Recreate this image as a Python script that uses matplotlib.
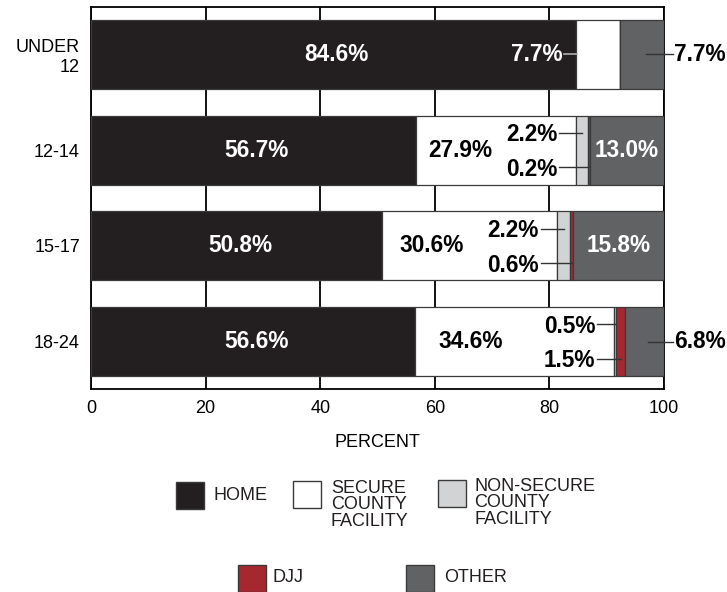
import matplotlib
matplotlib.use("Agg")
import matplotlib.pyplot as plt
from matplotlib.patches import Rectangle

plt.rcParams["font.family"] = ["Liberation Sans", "DejaVu Sans"]

# ============================================================
# Data
# ============================================================

categories = ["UNDER\n12", "12-14", "15-17", "18-24"]
series_names = ["HOME", "SECURE\nCOUNTY\nFACILITY", "NON-SECURE\nCOUNTY\nFACILITY", "DJJ", "OTHER"]

home = [84.6, 56.7, 50.8, 56.6]
secure = [7.7, 27.9, 30.6, 34.6]
nonsecure = [0.0, 2.2, 2.2, 0.5]
djj = [0.0, 0.2, 0.6, 1.5]
other = [7.7, 13.0, 15.8, 6.8]

xticks = [0, 20, 40, 60, 80, 100]

# ============================================================
# Style
# ============================================================

colors = ["#231f20", "#ffffff", "#d1d3d4", "#a4282e", "#616264"]
edge = "#3a3a3a"
W, H = 727, 592
BAR_H = 0.72
LABEL_FS = 16.3

fig = plt.figure(figsize=(W / 100, H / 100), dpi=100)
ax = fig.add_axes([91 / W, 1 - 389 / H, 573 / W, 382 / H])

series = [home, secure, nonsecure, djj, other]
ypos = list(range(len(categories)))
left = [0.0] * len(categories)
starts = []
for vals, col in zip(series, colors):
    ax.barh(ypos, vals, left=left, height=BAR_H, color=col,
            edgecolor=edge, linewidth=0.9, zorder=3)
    starts.append(list(left))
    left = [a + b for a, b in zip(left, vals)]

ax.set_xlim(0, 100)
ax.set_ylim(len(categories) - 0.505, -0.495)
ax.set_xticks(xticks)
ax.set_yticks(ypos)
ax.set_yticklabels(categories)
ax.tick_params(axis="both", length=0, labelsize=13)
ax.tick_params(axis="x", pad=8)
ax.tick_params(axis="y", pad=8)
for lab in ax.get_yticklabels():
    lab.set_multialignment("right")
ax.set_xlabel("PERCENT", fontsize=13, labelpad=12)
ax.xaxis.grid(True, color="black", linewidth=1.3, zorder=0)
ax.set_axisbelow(True)
for sp in ax.spines.values():
    sp.set_color("black")
    sp.set_linewidth(1.3)


def fmt(v):
    return f"{v:.1f}%"


bold = dict(fontsize=LABEL_FS, fontweight="bold", va="center")

for i, y in enumerate(ypos):
    # home
    ax.text(home[i] / 2 + 0.6, y, fmt(home[i]), color="white", ha="center", zorder=5, **bold)

    # secure county facility
    s0 = starts[1][i]
    if secure[i] > 15:
        ax.text(s0 + 0.28 * secure[i], y, fmt(secure[i]), color="black",
                ha="center", zorder=5, **bold)
    else:
        ax.plot([s0 - 2.0, s0 + 0.2], [y, y], color="#b0b0b0", lw=1.2, zorder=5)
        ax.text(s0 - 2.3, y, fmt(secure[i]), color="white", ha="right", zorder=5, **bold)

    # non-secure and djj: small labels with leader lines
    sec_end = starts[2][i]
    for k, dy in ((2, -0.18), (3, 0.18)):
        v = series[k][i]
        if v <= 0:
            continue
        seg_mid = starts[k][i] + v / 2
        tx = sec_end - 3.2
        ax.plot([tx + 0.3, seg_mid], [y + dy, y + dy], color="#333333", lw=1.0, zorder=5)
        ax.text(tx, y + dy + 0.02, fmt(v), color="black", ha="right", zorder=5, **bold)

    # other
    o0 = starts[4][i]
    if other[i] > 10:
        ax.text(o0 + other[i] / 2, y, fmt(other[i]), color="white", ha="center", zorder=5, **bold)
    else:
        ax.plot([o0 + 0.6 * other[i], 101.5], [y, y], color="#333333", lw=1.0,
                zorder=5, clip_on=False)
        ax.text(101.8, y, fmt(other[i]), color="black", ha="left", zorder=5,
                clip_on=False, **bold)

# ============================================================
# Legend (drawn by hand to match the layout)
# ============================================================

legend_layout = [
    # square left, square top, text x, text y, vertical alignment
    (176, 482, 214, 496, "center"),
    (293, 481, 331, 480, "top"),
    (438, 480, 474, 478, "top"),
    (238, 565, 273, 578, "center"),
    (406, 565, 444, 578, "center"),
]
SQ_W, SQ_H = 28, 27

for name, col, (sx, sy, tx, ty, va) in zip(series_names, colors, legend_layout):
    fig.add_artist(Rectangle((sx / W, 1 - (sy + SQ_H) / H), SQ_W / W, SQ_H / H,
                             transform=fig.transFigure, facecolor=col,
                             edgecolor=edge, linewidth=1.0))
    fig.text(tx / W, 1 - ty / H, name, ha="left", va=va, fontsize=13,
             linespacing=0.96, color="#231f20")

plt.savefig("out.png", dpi=100)
plt.close()
